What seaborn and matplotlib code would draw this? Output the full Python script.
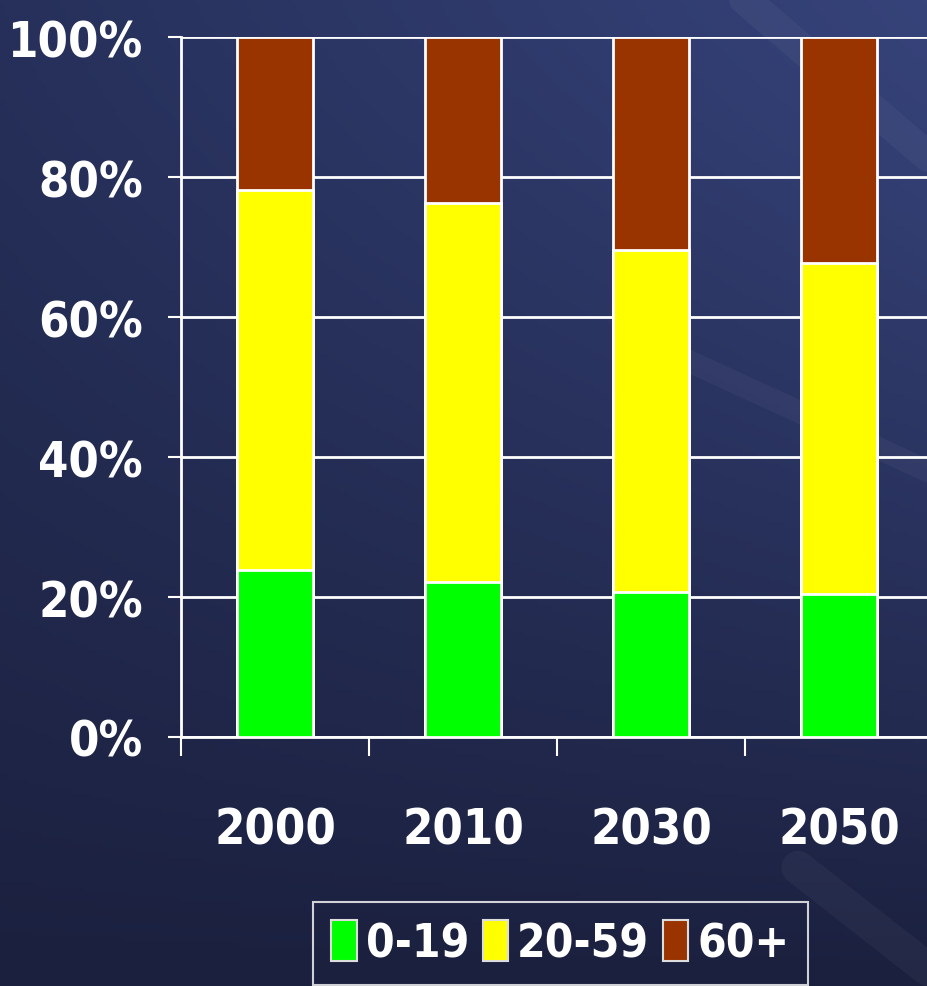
import numpy as np
import seaborn as sns
import matplotlib.pyplot as plt
from matplotlib.patches import Patch
from matplotlib.ticker import FixedLocator, FuncFormatter

# population share by age group, % of total
years = ["2000", "2010", "2030", "2050"]
age_0_19 = [23.9, 22.1, 20.7, 20.4]
age_20_59 = [54.2, 54.2, 48.9, 47.3]
age_60_plus = [21.9, 23.7, 30.4, 32.3]

groups = ["0-19", "20-59", "60+"]
colors = ["#00ff00", "#ffff00", "#993300"]

sns.set_theme(style="white")
plt.rcParams["font.family"] = ["DejaVu Sans"]
plt.rcParams["font.stretch"] = "condensed"
plt.rcParams["font.weight"] = "bold"

fig = plt.figure(figsize=(9.28, 9.87), dpi=100)

# background: dark navy gradient, lighter at the top and to the right
bg = fig.add_axes([0, 0, 1, 1], zorder=0)
yy, xx = np.mgrid[0:1:200j, 0:1:200j]  # yy = 0 at the top row
top_l = np.array([38, 48, 90]) / 255
top_r = np.array([54, 67, 122]) / 255
bot = np.array([27, 32, 62]) / 255
t = yy ** 1.2
top = top_l[None, None, :] * (1 - xx[..., None]) + top_r[None, None, :] * xx[..., None]
img = top * (1 - t[..., None]) + bot[None, None, :] * t[..., None]
bg.imshow(img, extent=[0, 1, 0, 1], aspect="auto", origin="upper")
# faint light streaks sloping down to the right, running off the canvas
for x0, y0, x1, y1, lw in [(0.74, 1.05, 1.05, 0.8, 22), (0.68, 0.66, 1.05, 0.5, 16),
                           (0.86, 0.12, 1.05, -0.02, 24)]:
    bg.plot([x0, x1], [y0, y1], color="white", alpha=0.04, lw=lw)
bg.set_xlim(0, 1)
bg.set_ylim(0, 1)
bg.axis("off")

ax = fig.add_axes([181 / 928, 249 / 987, 752 / 928, 700 / 987], zorder=1)
ax.set_facecolor("none")

cum_mid = [a + b for a, b in zip(age_0_19, age_20_59)]
cum_top = [a + b + c for a, b, c in zip(age_0_19, age_20_59, age_60_plus)]
for vals, col in [(cum_top, colors[2]), (cum_mid, colors[1]), (age_0_19, colors[0])]:
    sns.barplot(x=years, y=vals, color=col, saturation=1, width=0.4,
                edgecolor="white", linewidth=2, errorbar=None, ax=ax, zorder=3)

ax.set_xlim(-0.5, 3.5)
ax.set_ylim(0, 100)
ax.set_xlabel("")
ax.set_ylabel("")

ax.set_yticks([0, 20, 40, 60, 80, 100])
ax.yaxis.set_major_formatter(FuncFormatter(lambda v, p: f"{v:.0f}%"))
ax.grid(axis="y", color="white", lw=2)
ax.set_axisbelow(True)

ax.xaxis.set_minor_locator(FixedLocator([-0.5, 0.5, 1.5, 2.5]))
ax.tick_params(axis="x", which="major", length=0, pad=49, labelsize=35, colors="white")
ax.tick_params(axis="x", which="minor", bottom=True, length=14, width=1.5, color="white")
ax.tick_params(axis="y", left=True, length=9.5, width=1.5, pad=18, labelsize=35,
               colors="white")

for side in ["top", "right"]:
    ax.spines[side].set_visible(False)
for side in ["left", "bottom"]:
    ax.spines[side].set_color("white")
    ax.spines[side].set_linewidth(2)

handles = [Patch(facecolor=c, edgecolor="#dddddd", lw=1.5) for c in colors]
leg = fig.legend(handles, groups, loc="upper left", bbox_to_anchor=(313 / 928, 1 - 903 / 987),
                 ncol=3, fontsize=33, frameon=True, fancybox=False,
                 handlelength=0.55, handleheight=1.0, handletextpad=0.2,
                 columnspacing=0.3, borderpad=0.4, borderaxespad=0)
leg.get_frame().set_facecolor("none")
leg.get_frame().set_edgecolor("white")
leg.get_frame().set_linewidth(1.5)
for txt in leg.get_texts():
    txt.set_color("white")

fig.savefig("out.png", dpi=100)
